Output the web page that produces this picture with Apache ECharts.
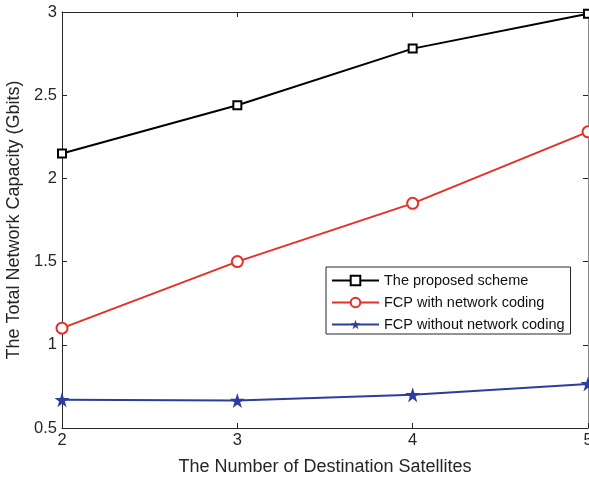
<!DOCTYPE html>
<html><head><meta charset="utf-8">
<script src="https://cdn.jsdelivr.net/npm/echarts@6/dist/echarts.min.js"></script>
<style>html,body{margin:0;padding:0;background:#fff;overflow:hidden}#c{width:589px;height:482px}</style>
</head><body><div id="c"></div>
<script>
const xValues = [2, 3, 4, 5];
const proposed = [2.15, 2.44, 2.78, 2.99];
const fcpWith = [1.10, 1.50, 1.85, 2.28];
const fcpWithout = [0.67, 0.665, 0.70, 0.765];
const seriesNames = ['The proposed scheme', 'FCP with network coding', 'FCP without network coding'];
const xTitle = 'The Number of Destination Satellites';
const yTitle = 'The Total Network Capacity (Gbits)';

const FONT = 'Liberation Sans, Arial, sans-serif';
const star = 'path://M50,0 L61.2,34.5 L97.6,34.5 L68.2,55.9 L79.4,90.5 L50,69.1 L20.6,90.5 L31.8,55.9 L2.4,34.5 L38.8,34.5 Z';
const pair = a => xValues.map((x, i) => [x, a[i]]);

const chart = echarts.init(document.getElementById('c'), null, {renderer: 'canvas'});
const axisLine = {show: true, lineStyle: {color: '#262626', width: 1}};
const tick = {show: true, inside: true, length: 5, lineStyle: {color: '#262626'}};
chart.setOption({
  animation: false,
  backgroundColor: '#fff',
  grid: {left: 62, top: 12, width: 526, height: 416, containLabel: false, outerBoundsMode: 'none'},
  xAxis: [{
    type: 'value', min: 2, max: 5, interval: 1, position: 'bottom',
    axisLine, axisTick: tick, splitLine: {show: false},
    axisLabel: {color: '#262626', fontSize: 16.5, fontFamily: FONT, margin: 4},
    name: xTitle, nameLocation: 'middle', nameGap: 30,
    nameTextStyle: {color: '#262626', fontSize: 18, fontFamily: FONT}
  }, {
    type: 'value', min: 2, max: 5, interval: 1, position: 'top',
    axisLine, axisTick: tick, axisLabel: {show: false}, splitLine: {show: false}
  }],
  yAxis: [{
    type: 'value', min: 0.5, max: 3, interval: 0.5, position: 'left',
    axisLine, axisTick: tick, splitLine: {show: false},
    axisLabel: {color: '#262626', fontSize: 16.5, fontFamily: FONT, margin: 5},
    name: yTitle, nameLocation: 'middle', nameGap: 35, nameRotate: 90,
    nameTextStyle: {color: '#262626', fontSize: 18, fontFamily: FONT}
  }, {
    type: 'value', min: 0.5, max: 3, interval: 0.5, position: 'right',
    axisLine: {show: true, lineStyle: {color: '#888', width: 1}}, axisTick: tick, axisLabel: {show: false}, splitLine: {show: false}
  }],
  legend: {
    orient: 'vertical', left: 326, top: 267,
    padding: [6, 6, 2, 5], itemGap: 7,
    itemWidth: 47, itemHeight: 12,
    borderColor: '#262626', borderWidth: 1, backgroundColor: '#fff',
    textStyle: {color: '#111', fontSize: 14.5, fontFamily: FONT},
    data: seriesNames
  },
  series: [{
    name: seriesNames[0], type: 'line', data: pair(proposed),
    symbol: 'rect', symbolSize: 8, showAllSymbol: true,
    lineStyle: {color: '#000', width: 2}, itemStyle: {color: '#fff', borderColor: '#000', borderWidth: 2}
  }, {
    name: seriesNames[1], type: 'line', data: pair(fcpWith),
    symbol: 'circle', symbolSize: 11,
    lineStyle: {color: '#e5302a', width: 2}, itemStyle: {color: '#fff', borderColor: '#e5302a', borderWidth: 2}
  }, {
    name: seriesNames[2], type: 'line', data: pair(fcpWithout),
    symbol: star, symbolSize: 15,
    lineStyle: {color: '#2b3d9e', width: 2}, itemStyle: {color: '#2b3d9e', borderColor: '#2b3d9e', borderWidth: 0}
  }]
});
</script></body></html>
